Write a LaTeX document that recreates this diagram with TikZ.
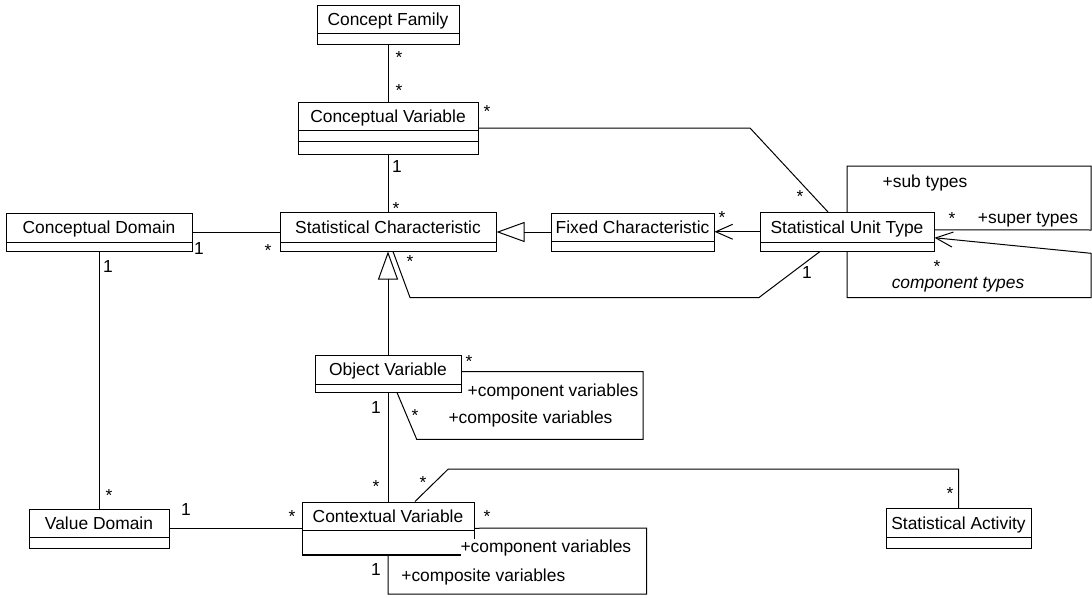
\documentclass[tikz,border=0pt]{standalone}
\usepackage{fontspec}
\setmainfont{Liberation Sans}
\usetikzlibrary{arrows.meta,fit}
\tikzset{
  clsbox/.style={draw, line width=1pt, inner sep=0pt},
  clsname/.style={anchor=base, inner sep=0pt},
  lbl/.style={anchor=base, inner sep=0pt},
  gen/.style={-{Triangle[open,length=28pt,width=20pt]}},
  nav/.style={-{Straight Barb[length=17pt,width=15pt]}},
}
\newcommand\umlclass[7]{%
  \coordinate (#1-nw) at (#2,#3);
  \coordinate (#1-se) at (#4,#6);
  \node[clsbox, fit=(#1-nw)(#1-se)] (#1) {};
  \draw (#2,#5) -- (#4,#5);
  \draw[line width=1.8pt] (#2,#6+0.4) -- (#4,#6+0.4);
  \node[clsname] (#1-t) at ({(#2+#4)/2},{(#3+#5)/2+6.2}) {#7};
}
\begin{document}
\begin{tikzpicture}[x=1pt,y=-1pt,font=\fontsize{17.4}{20}\selectfont,line width=1pt]
\fill[white] (0,0) rectangle (1092,597);
\useasboundingbox (0,0) rectangle (1092,597);

% classes
\umlclass{cf}{317}{5}{459}{33}{44}{Concept Family}
\umlclass{cv}{298}{102}{478}{130}{154}{Conceptual Variable}
\draw (298,141) -- (478,141);
\umlclass{cd}{6}{213}{192}{242}{251}{Conceptual Domain}
\umlclass{sc}{280}{212.5}{496}{242}{251}{Statistical Characteristic}
\umlclass{fc}{551}{213}{714}{241.5}{251}{Fixed Characteristic}
\umlclass{sut}{760}{212.5}{934}{242}{251}{Statistical Unit Type}
\umlclass{ov}{315}{355}{461}{384.5}{392}{Object Variable}
\umlclass{ctx}{302}{502}{474}{530}{554.5}{Contextual Variable}
\umlclass{vd}{29}{509}{169}{537.5}{548}{Value Domain}
\umlclass{sa}{886}{508.5}{1031}{537.5}{548}{Statistical Activity}

% connectors
\draw (cf.south) -- (cv.north);
\draw (cv.south) -- (sc.north);
\draw (cd.east) -- (cd.east -| sc.west);
\draw (cd.south) -- (vd.north);
\draw (vd.east) -- (vd.east -| ctx.west);
\draw[gen] (ov.north) -- (sc.south);
\draw[gen] (fc.west) -- (fc.west -| sc.east);
\draw[nav] (sut.west) -- (sut.west -| fc.east);
\draw (ov.south) -- (ctx.north);
\draw (cv.east) -- (750,128) -- ([xshift=-19pt]sut.north);
\draw ([xshift=-27pt]sut.south) -- (759,297.5) -- (410,297.5) -- ([xshift=5pt]sc.south);
\draw (sut.north) -- (847,166) -- (1091,166) -- (1091,230) -- ([yshift=2pt]sut.east);
\draw[nav] (sut.south) -- (847,297.7) -- (1091,297.7) -- (1091,253.3) -- ([yshift=-6pt]sut.east);
\draw ([yshift=2pt]ov.east) -- (643,371.5) -- (643,439.3) -- (416.7,439.3) -- ([xshift=9pt]ov.south);
\draw (ctx.east) -- (646.7,528) -- (646.7,594) -- (388,594) -- (ctx.south);
\draw ([xshift=27pt]ctx.north) -- (448.3,469) -- (958.5,469) -- (sa.north);

% multiplicities
\node[lbl] (s1) at (399,63.7) {*};
\node[lbl] (s2) at (399,96.7) {*};
\node[lbl] (s3) at (487,117.7) {*};
\node[lbl] (s4) at (396,214.7) {*};
\node[lbl] (s5) at (268,256.7) {*};
\node[lbl] (s6) at (109,501.7) {*};
\node[lbl] (s7) at (410,267.7) {*};
\node[lbl] (s8) at (722,223.7) {*};
\node[lbl] (s9) at (800,202.7) {*};
\node[lbl] (s10) at (952,224.7) {*};
\node[lbl] (s11) at (937,272.7) {*};
\node[lbl] (s12) at (469,367.7) {*};
\node[lbl] (s13) at (415,421.7) {*};
\node[lbl] (s14) at (376,492.7) {*};
\node[lbl] (s15) at (423,488.7) {*};
\node[lbl] (s16) at (292,522.7) {*};
\node[lbl] (s17) at (487,522.7) {*};
\node[lbl] (s18) at (950,499.7) {*};

\node[lbl] (o1) at (397,172.3) {1};
\node[lbl] (o2) at (199,254.3) {1};
\node[lbl] (o3) at (108,272.7) {1};
\node[lbl] (o4) at (807,278.3) {1};
\node[lbl] (o5) at (376,413.3) {1};
\node[lbl] (o6) at (186,515) {1};
\node[lbl] (o7) at (376,575) {1};

% role names
\node[lbl] (r1) at (925,187.3) {+sub types};
\node[lbl] (r2) at (1028,223.3) {+super types};
\node[lbl, font=\fontsize{17.4}{20}\selectfont\itshape] (r3) at (958,288.3) {component types};
\node[lbl] (r4) at (553,396) {+component variables};
\node[lbl] (r5) at (530.5,423.3) {+composite variables};
\node[lbl, anchor=base west, fill=white, inner ysep=1pt] (r6) at (460,552.7) {+component variables};
\node[lbl] (r7) at (483.3,581) {+composite variables};
\end{tikzpicture}
\end{document}
